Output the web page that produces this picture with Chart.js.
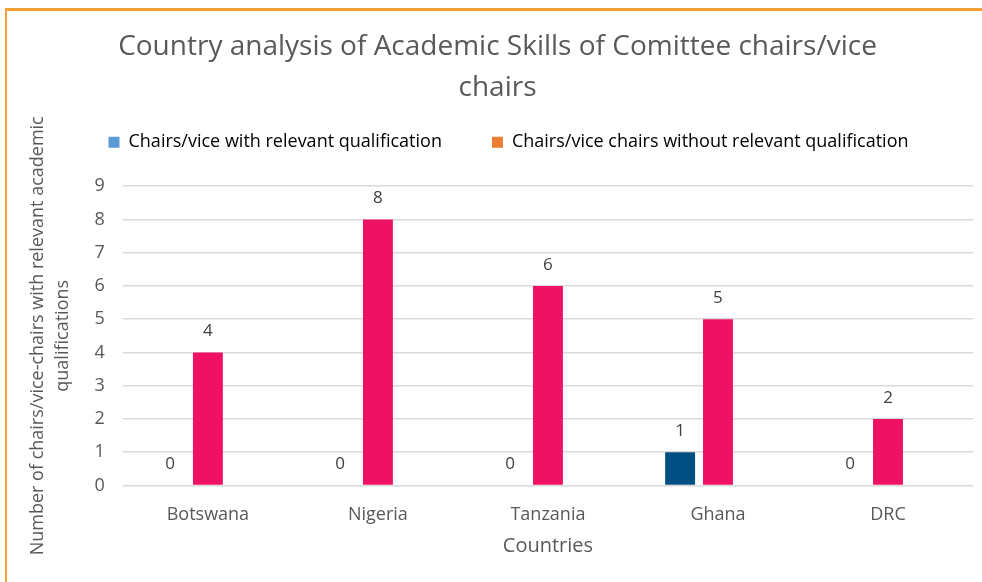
<!DOCTYPE html>
<html>
<head>
<meta charset="utf-8">
<script src="https://cdn.jsdelivr.net/npm/chart.js@4.4.1/dist/chart.umd.min.js"></script>
<style>
  html, body { margin: 0; padding: 0; background: #fff; }
  #wrap { position: relative; width: 982px; height: 582px; }
  #frame {
    position: absolute; left: 5px; top: 8px; right: 0; bottom: 0;
    border-top: 3px solid #F4A035; border-left: 2px solid #F4A035;
    pointer-events: none;
  }
</style>
</head>
<body>
<div id="wrap">
  <canvas id="chart" width="982" height="582"></canvas>
  <div id="frame"></div>
</div>
<script>
// Data
const countries = ['Botswana', 'Nigeria', 'Tanzania', 'Ghana', 'DRC'];
const withQualification = [0, 0, 0, 1, 0];
const withoutQualification = [4, 8, 6, 5, 2];
const emptySeries = [null, null, null, null, null];
const yTicks = [0, 1, 2, 3, 4, 5, 6, 7, 8, 9];

const textColor = '#595959';
const font = "'Open Sans', 'Noto Sans', sans-serif";

// Value labels above each bar
const valueLabels = {
  id: 'valueLabels',
  afterDatasetsDraw(chart) {
    const ctx = chart.ctx;
    ctx.save();
    ctx.font = '17px ' + font;
    ctx.fillStyle = '#404040';
    ctx.textAlign = 'center';
    ctx.textBaseline = 'middle';
    [0, 1].forEach(i => {
      const meta = chart.getDatasetMeta(i);
      meta.data.forEach((bar, j) => {
        const v = chart.data.datasets[i].data[j];
        if (v === null) return;
        ctx.fillText(String(v), bar.x, bar.y - 21);
      });
    });
    ctx.restore();
  }
};

// Nudge the legend: keep its reserved space, draw it a bit higher and to the right
const legendShift = {
  id: 'legendShift',
  afterLayout(chart) {
    const lg = chart.legend;
    lg.top -= 25; lg.bottom -= 25;
    lg.left += 11; lg.right += 11;
  }
};

const ctx = document.getElementById('chart').getContext('2d');
new Chart(ctx, {
  type: 'bar',
  data: {
    labels: countries,
    datasets: [
      { label: 'Chairs/vice with relevant qualification', data: withQualification, backgroundColor: '#004F82' },
      { label: 'Chairs/vice chairs without relevant qualification', data: withoutQualification, backgroundColor: '#EE1164' },
      { label: '', data: emptySeries, backgroundColor: 'transparent' }
    ]
  },
  options: {
    responsive: false,
    animation: false,
    categoryPercentage: 0.668,
    barPercentage: 0.79,
    layout: { padding: { left: 22, right: 9, top: 27, bottom: 22 } },
    plugins: {
      title: {
        display: true,
        text: ['Country analysis of Academic Skills of Comittee chairs/vice', 'chairs'],
        color: textColor,
        font: { family: font, size: 28, weight: 'normal', lineHeight: 1.45 },
        padding: { top: 0, bottom: 0 }
      },
      legend: {
        position: 'top',
        labels: {
          color: textColor,
          font: { family: font, size: 18 },
          boxWidth: 11,
          boxHeight: 11,
          padding: 50,
          generateLabels() {
            return [
              { text: 'Chairs/vice with relevant qualification', fillStyle: '#5B9BD5', strokeStyle: '#5B9BD5', lineWidth: 0, datasetIndex: 0 },
              { text: 'Chairs/vice chairs without relevant qualification', fillStyle: '#ED7D31', strokeStyle: '#ED7D31', lineWidth: 0, datasetIndex: 1 }
            ];
          }
        }
      },
      tooltip: { enabled: false }
    },
    scales: {
      x: {
        grid: { display: false },
        border: { display: false },
        ticks: { color: textColor, font: { family: font, size: 18 }, padding: 11 },
        title: { display: true, text: 'Countries', color: textColor, font: { family: font, size: 20, lineHeight: 1.0 }, padding: { top: -1 } }
      },
      y: {
        min: 0,
        max: 9,
        afterBuildTicks(axis) { axis.ticks = yTicks.map(v => ({ value: v })); },
        grid: { color: '#D9D9D9', lineWidth: 1.5, drawTicks: false },
        border: { display: false },
        ticks: { color: textColor, font: { family: font, size: 18 }, padding: 18 },
        title: {
          display: true,
          text: ['Number of chairs/vice-chairs with relevant academic', 'qualifications'],
          color: textColor,
          font: { family: font, size: 18, lineHeight: 1.35 },
          padding: { bottom: 2 }
        }
      }
    }
  },
  plugins: [valueLabels, legendShift]
});
</script>
</body>
</html>
